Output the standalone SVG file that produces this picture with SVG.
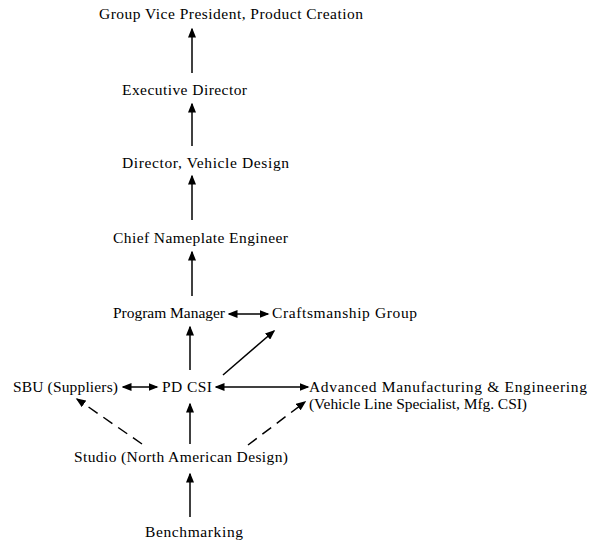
<svg xmlns="http://www.w3.org/2000/svg" width="589" height="546" viewBox="0 0 589 546">
  <style>
    .lbl { font-family: "Liberation Serif", "Times New Roman", serif; font-size: 15.5px; fill: #000; }
    .ln { stroke: #000; stroke-width: 1.5; fill: none; }
    .dash { stroke-dasharray: 11 7; }
  </style>
  <defs>
    <marker id="ah" markerUnits="userSpaceOnUse" markerWidth="10" markerHeight="8" refX="8.5" refY="4" orient="auto-start-reverse">
      <path d="M0,0 L10,4 L0,8 z" fill="#000"/>
    </marker>
  </defs>

  <rect width="589" height="546" fill="#fff"/>

  <!-- reporting chain and working relationships -->
  <g id="connectors">
    <line class="ln" x1="192" y1="73" x2="192" y2="29" marker-end="url(#ah)"/>
    <line class="ln" x1="192" y1="146" x2="192" y2="104" marker-end="url(#ah)"/>
    <line class="ln" x1="192" y1="220" x2="192" y2="176" marker-end="url(#ah)"/>
    <line class="ln" x1="192" y1="296" x2="192" y2="252" marker-end="url(#ah)"/>
    <line class="ln" x1="229" y1="314" x2="268" y2="314" marker-start="url(#ah)" marker-end="url(#ah)"/>
    <line class="ln" x1="190" y1="370" x2="190" y2="327" marker-end="url(#ah)"/>
    <line class="ln" x1="223" y1="375" x2="274" y2="331" marker-end="url(#ah)"/>
    <line class="ln" x1="123" y1="387" x2="157" y2="387" marker-start="url(#ah)" marker-end="url(#ah)"/>
    <line class="ln" x1="216" y1="387" x2="308" y2="387" marker-start="url(#ah)" marker-end="url(#ah)"/>
    <line class="ln" x1="190" y1="444" x2="190" y2="404" marker-end="url(#ah)"/>
    <line class="ln dash" x1="142" y1="444" x2="77" y2="399" marker-end="url(#ah)"/>
    <line class="ln dash" x1="248" y1="445" x2="305" y2="402" marker-end="url(#ah)"/>
    <line class="ln" x1="190" y1="517" x2="190" y2="474" marker-end="url(#ah)"/>
  </g>

  <g id="gvp"><text class="lbl" x="99" y="19" textLength="264">Group Vice President, Product Creation</text></g>
  <g id="exec"><text class="lbl" x="122" y="95" textLength="125">Executive Director</text></g>
  <g id="director"><text class="lbl" x="122" y="168" textLength="167">Director, Vehicle Design</text></g>
  <g id="chief"><text class="lbl" x="113" y="243" textLength="175">Chief Nameplate Engineer</text></g>
  <g id="program"><text class="lbl" x="113" y="318" textLength="112">Program Manager</text></g>
  <g id="craft"><text class="lbl" x="272" y="318" textLength="145">Craftsmanship Group</text></g>
  <g id="sbu"><text class="lbl" x="13" y="392" textLength="105">SBU (Suppliers)</text></g>
  <g id="pdcsi"><text class="lbl" x="162" y="392" textLength="50">PD CSI</text></g>
  <g id="ame">
    <text class="lbl" x="309" y="392" textLength="278">Advanced Manufacturing &amp; Engineering</text>
    <text class="lbl" x="309" y="409" textLength="218">(Vehicle Line Specialist, Mfg. CSI)</text>
  </g>
  <g id="studio"><text class="lbl" x="74" y="462" textLength="214">Studio (North American Design)</text></g>
  <g id="bench"><text class="lbl" x="145" y="537" textLength="98">Benchmarking</text></g>
</svg>
